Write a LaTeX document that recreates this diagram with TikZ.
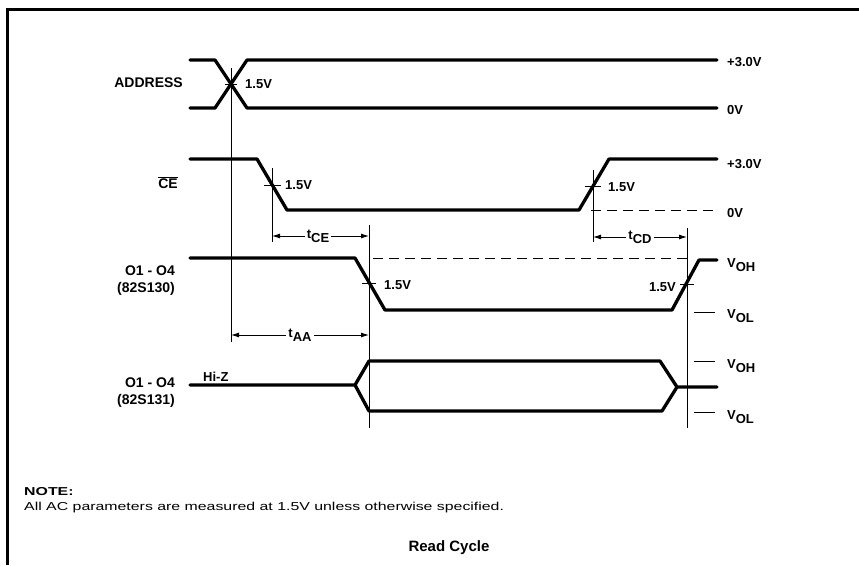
\documentclass[tikz,border=0pt]{standalone}
\usepackage{fontspec}
\setmainfont{Liberation Sans}
\newfontfamily\widefont[FakeStretch=1.38]{Liberation Sans}
\usetikzlibrary{arrows.meta}
\newcommand{\lowsub}[1]{\raisebox{-4pt}{#1}}
\begin{document}
\begin{tikzpicture}[x=1pt,y=-1pt,
  sig/.style={line width=3.3pt, line cap=round, line join=round},
  thinline/.style={line width=0.9pt},
  dsh/.style={line width=0.9pt, dash pattern=on 10pt off 6pt},
  dimline/.style={line width=0.9pt, {Latex[length=8pt,width=5pt]}-{Latex[length=8pt,width=5pt]}},
  lbl/.style={font=\fontsize{14}{16}\selectfont\bfseries, inner sep=0pt},
  vlbl/.style={font=\fontsize{13}{15}\selectfont\bfseries, inner sep=0pt},
  dimlbl/.style={font=\fontsize{13}{15}\selectfont\bfseries, inner sep=2pt, fill=white},
  notelbl/.style={inner sep=0pt, anchor=base west}
]
\useasboundingbox (0,0) rectangle (859,565);
% frame
\draw[line width=2.6pt] (7.5,565) -- (7.5,9.5) -- (859,9.5);

% ---------------- ADDRESS ----------------
\draw[sig] (190,60) -- (215,60) -- (247,108) -- (717,108);
\draw[sig] (190,108) -- (215,108) -- (247,60) -- (717,60);
\coordinate (aTop) at (231,68);
\coordinate (aBot) at (231,342);
\draw[thinline] (aTop) -- (aBot);
\draw[thinline] (225,84) -- (237,84);
\node[lbl, anchor=east] (addr) at (183,83) {ADDRESS};
\node[vlbl, anchor=west] (a15) at (245,84) {1.5V};
\node[vlbl, anchor=west] (a3v) at (727,62) {+3.0V};
\node[vlbl, anchor=west] (a0v) at (727,110) {0V};

% ---------------- CE ----------------
\draw[sig] (190,159) -- (257,159) -- (287,210) -- (579,210) -- (609,159) -- (717,159);
\draw[dsh] (591,210) -- (717,210);
\coordinate (ceT1) at (272,168);
\coordinate (ceB1) at (272,242);
\draw[thinline] (ceT1) -- (ceB1);
\draw[thinline] (264,185) -- (281,185);
\coordinate (ceT2) at (593,170);
\coordinate (ceB2) at (593,242);
\draw[thinline] (ceT2) -- (ceB2);
\draw[thinline] (585,186) -- (601,186);
\node[lbl, anchor=east] (ce) at (178,183) {$\overline{\mbox{CE}}$};
\node[vlbl, anchor=west] (c15a) at (285,185) {1.5V};
\node[vlbl, anchor=west] (c15b) at (608,187) {1.5V};
\node[vlbl, anchor=west] (c3v) at (727,164) {+3.0V};
\node[vlbl, anchor=west] (c0v) at (727,213) {0V};

% ---------------- O1-O4 (82S130) ----------------
\coordinate (o1T) at (369,225);
\coordinate (o1B) at (369,428);
\draw[thinline] (o1T) -- (o1B);
\coordinate (o2T) at (687,228);
\coordinate (o2B) at (687,428);
\draw[thinline] (o2T) -- (o2B);
\draw[dsh] (373,258) -- (690,258);
\draw[sig] (190,258) -- (355,258) -- (385,310) -- (672,310) -- (699,260) -- (717,260);
\draw[thinline] (362,283) -- (376,283);
\draw[thinline] (680,284) -- (694,284);
\draw[thinline] (694,312) -- (715,312);
\node[lbl, anchor=east, align=right] (o130) at (175,281) {O1 - O4\\[1pt](82S130)};
\node[vlbl, anchor=west] (o15a) at (384,285) {1.5V};
\node[vlbl, anchor=east] (o15b) at (676,287) {1.5V};
\node[vlbl, anchor=west] (voh1) at (727,265) {V\lowsub{OH}};
\node[vlbl, anchor=west] (vol1) at (727,316) {V\lowsub{OL}};

% dimension arrows
\coordinate (tceL) at (272,236);
\coordinate (tceR) at (369,236);
\draw[dimline] (tceL) -- (tceR);
\node[dimlbl] (tce) at (318,236) {t\lowsub{CE}};
\coordinate (tcdL) at (593,237);
\coordinate (tcdR) at (687,237);
\draw[dimline] (tcdL) -- (tcdR);
\node[dimlbl] (tcd) at (640,237) {t\lowsub{CD}};
\coordinate (taaL) at (231,335);
\coordinate (taaR) at (369,335);
\draw[dimline] (taaL) -- (taaR);
\node[dimlbl] (taa) at (300,335) {t\lowsub{AA}};

% ---------------- O1-O4 (82S131) ----------------
\draw[sig] (190,385) -- (355,385) -- (369,361) -- (660,361) -- (677,387) -- (717,387);
\draw[sig] (355,385) -- (369,411) -- (662,411) -- (677,387);
\draw[thinline] (694,361) -- (715,361);
\draw[thinline] (694,412) -- (715,412);
\node[vlbl, anchor=base west] (hiz) at (203,381) {Hi-Z};
\node[lbl, anchor=east, align=right] (o131) at (175,393) {O1 - O4\\[1pt](82S131)};
\node[vlbl, anchor=west] (voh2) at (727,366) {V\lowsub{OH}};
\node[vlbl, anchor=west] (vol2) at (727,417) {V\lowsub{OL}};

% notes
\node[notelbl, font=\widefont\fontsize{11.5}{13}\selectfont\bfseries] (note) at (24,495) {NOTE:};
\node[notelbl, font=\widefont\fontsize{11.5}{13}\selectfont] (notetext) at (24,510) {All AC parameters are measured at 1.5V unless otherwise specified.};
\node[font=\fontsize{15}{17}\selectfont\bfseries, inner sep=0pt] (title) at (449,548) {Read Cycle};
\end{tikzpicture}
\end{document}
